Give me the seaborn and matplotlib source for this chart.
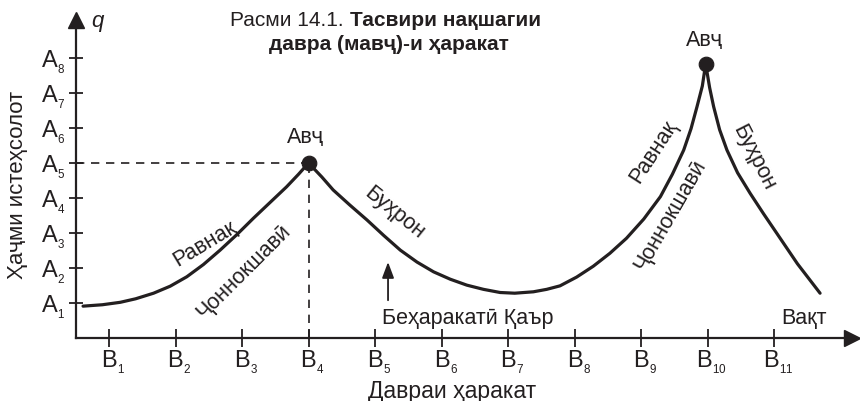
import numpy as np
import pandas as pd
import seaborn as sns
import matplotlib.pyplot as plt
import matplotlib.transforms as mtrans

# ======================================================
# 1. DATA
# ======================================================

# business-cycle curve: x in B units, y in A units
curve_x = [0.61, 0.90, 1.17, 1.40, 1.67, 1.92, 2.17, 2.42, 2.67, 2.92, 3.17, 3.42, 3.67, 3.85, 4.00,
           4.20, 4.37, 4.62, 4.88, 5.13, 5.38, 5.63, 5.88, 6.13, 6.38, 6.63, 6.88, 7.10, 7.38, 7.58,
           7.78, 8.03, 8.28, 8.53, 8.78, 9.04, 9.29, 9.47, 9.64, 9.75, 9.84, 9.92, 9.97,
           10.03, 10.09, 10.18, 10.29, 10.45, 10.64, 10.84, 11.04, 11.35, 11.69]
curve_y = [0.91, 0.95, 1.02, 1.12, 1.28, 1.48, 1.75, 2.10, 2.51, 2.95, 3.42, 3.87, 4.32, 4.68, 5.00,
           4.60, 4.23, 3.80, 3.37, 2.93, 2.51, 2.17, 1.89, 1.68, 1.51, 1.39, 1.30, 1.28, 1.32, 1.39,
           1.49, 1.74, 2.05, 2.42, 2.85, 3.40, 4.04, 4.68, 5.37, 5.98, 6.61, 7.20, 7.83,
           7.15, 6.61, 5.95, 5.37, 4.72, 4.13, 3.55, 2.99, 2.12, 1.28]

peak_x = [4.0, 9.97]
peak_y = [5.0, 7.83]

x_ticks = list(range(1, 12))
x_tick_labels = [f"$\\mathregular{{B_{{_{{{i}}}}}}}$" for i in x_ticks]
y_ticks = list(range(1, 9))
y_tick_labels = [f"$\\mathregular{{A_{{_{{{i}}}}}}}$" for i in y_ticks]

df_curve = pd.DataFrame({"x": curve_x, "y": curve_y})
df_peaks = pd.DataFrame({"x": peak_x, "y": peak_y})

# ======================================================
# 2. STYLE
# ======================================================

sns.set_theme(style="white")
plt.rcParams['font.family'] = ['Liberation Sans', 'DejaVu Sans']
plt.rcParams['mathtext.fontset'] = 'custom'
plt.rcParams['mathtext.rm'] = 'Liberation Sans'
ink = "#231f20"

fig = plt.figure(figsize=(8.6, 4.01), dpi=100)
ax = fig.add_axes([76 / 860, 63 / 401, (852 - 76) / 860, (338 - 20) / 401])

# ======================================================
# 3. CURVE + PEAKS
# ======================================================

sns.lineplot(data=df_curve, x="x", y="y", sort=False, color=ink, linewidth=2.3, ax=ax)
sns.scatterplot(data=df_peaks, x="x", y="y", color=ink, s=110, edgecolor=ink, zorder=5, ax=ax)

# dashed guides to the first peak
ax.plot([0.5, peak_x[0]], [peak_y[0], peak_y[0]], ls=(0, (5, 4)), color=ink, lw=1.2)
ax.plot([peak_x[0], peak_x[0]], [0, peak_y[0]], ls=(0, (5, 4)), color=ink, lw=1.2)

# ======================================================
# 4. AXES
# ======================================================

ax.set_xlim(0.504, 12.17)
ax.set_ylim(0, 9.086)
for s in ["top", "right"]:
    ax.spines[s].set_visible(False)
for s in ["left", "bottom"]:
    ax.spines[s].set_color(ink)
    ax.spines[s].set_linewidth(1.6)
ax.plot(1, 0, ">", color=ink, ms=11, transform=ax.transAxes, clip_on=False)
ax.plot(0, 1, "^", color=ink, ms=11, transform=ax.transAxes, clip_on=False)

ax.set_xticks(x_ticks, x_tick_labels, fontsize=17, color=ink)
ax.set_yticks(y_ticks, y_tick_labels, fontsize=17, color=ink)
ax.tick_params(axis="x", direction="inout", length=13, width=1.3, color=ink, pad=1, bottom=True)
ax.tick_params(axis="y", direction="inout", length=10, width=1.3, color=ink, pad=3, left=True)
# letter centred on the tick, subscript hanging to the right
shift = mtrans.ScaledTranslation(4 / 100, 0, fig.dpi_scale_trans)
for t in ax.get_xticklabels():
    t.set_transform(t.get_transform() + shift)
ax.set_xlabel("")
ax.set_ylabel("")

ax.text(6.16, -1.52, "Давраи ҳаракат", fontsize=16.5, color=ink, ha="center", va="center", clip_on=False)
ax.text(-0.37, 4.37, "Ҳаҷми истеҳсолот", fontsize=16, color=ink, rotation=90,
        ha="center", va="center", clip_on=False)
ax.text(0.82, 9.03, "q", fontsize=16, style="italic", color=ink, ha="center", va="center", clip_on=False)

# title (regular + bold parts)
ax.text(4.52, 9.06, "Расми 14.1.", fontsize=15, color=ink, ha="right", va="center", clip_on=False)
ax.text(4.62, 9.06, "Тасвири нақшагии", fontsize=15, fontweight="bold", color=ink,
        ha="left", va="center", clip_on=False)
ax.text(5.21, 8.38, "давра (мавҷ)-и ҳаракат", fontsize=15, fontweight="bold", color=ink,
        ha="center", va="center", clip_on=False)

# ======================================================
# 5. ANNOTATIONS
# ======================================================

lab = dict(fontsize=15.5, color=ink, ha="center", va="center", rotation_mode="anchor")
ax.text(3.95, 5.74, "Авҷ", **lab)
ax.text(9.95, 8.49, "Авҷ", **lab)
ax.text(2.44, 2.70, "Равнақ", rotation=31, **lab)
ax.text(3.03, 1.90, "Ҷоннокшавӣ", rotation=45, **lab)
ax.text(5.29, 3.58, "Буҳрон", rotation=-39, **lab)
ax.text(9.19, 5.31, "Равнақ", rotation=57, **lab)
ax.text(9.44, 3.51, "Ҷоннокшавӣ", rotation=60, **lab)
ax.text(10.69, 5.14, "Буҳрон", rotation=-63, **lab)
ax.text(6.40, 0.57, "Беҳаракатӣ Қаър", **lab)
ax.text(11.45, 0.57, "Вақт", **lab)

ax.annotate("", xy=(5.195, 2.25), xytext=(5.195, 1.0),
            arrowprops=dict(arrowstyle="-|>,head_length=0.8,head_width=0.3", color=ink, lw=1.3))

fig.savefig("out.png", dpi=100)
